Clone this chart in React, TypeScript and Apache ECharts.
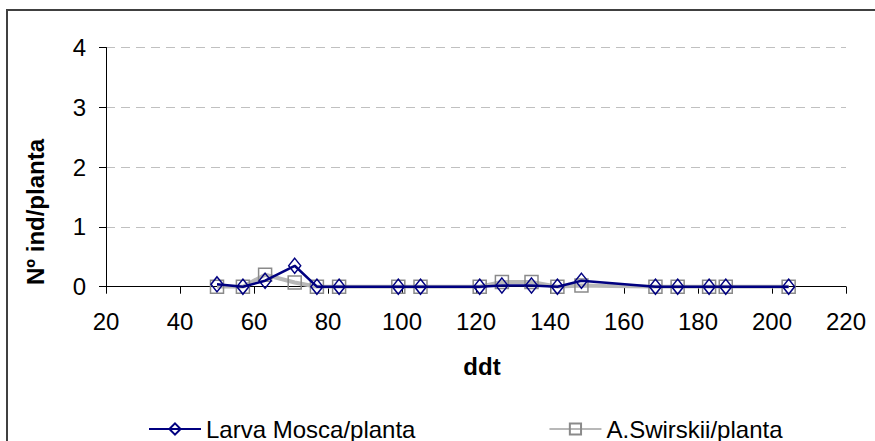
import React, { useEffect, useRef } from "react";
import * as echarts from "echarts";

const ddt = [50, 57, 63, 71, 77, 83, 99, 105, 121, 127, 135, 142, 148.5, 168.5, 174.5, 183, 187.5, 204.5];
const larva = [0.04, 0, 0.1, 0.35, 0, 0, 0, 0, 0, 0.02, 0.02, 0, 0.1, 0, 0, 0, 0, 0];
const swirskii = [0, 0, 0.2, 0.07, 0, 0, 0, 0, 0, 0.08, 0.08, 0, 0.02, 0, 0, 0, 0, 0];
const seriesNames = ["Larva Mosca/planta", "A.Swirskii/planta"];
const xTitle = "ddt";
const yTitle = "Nº ind/planta";

const FONT = "'Liberation Sans', Arial, sans-serif";

export default function App() {
  const ref = useRef<HTMLDivElement>(null);
  useEffect(() => {
    if (!ref.current) return;
    const chart = echarts.init(ref.current, null, { renderer: "svg" });
    const larvaData = ddt.map((x, i) => [x, larva[i]]);
    const swData = ddt.map((x, i) => [x, swirskii[i]]);
    chart.setOption({
      animation: false,
      backgroundColor: "#ffffff",
      textStyle: { fontFamily: FONT },
      grid: { left: 106, top: 47.5, width: 740, height: 239.2, containLabel: false },
      xAxis: {
        type: "value",
        min: 20,
        max: 220,
        interval: 20,
        name: xTitle,
        nameLocation: "middle",
        nameGap: 68,
        nameTextStyle: { fontFamily: FONT, fontSize: 24, fontWeight: "bold", color: "#000", padding: [0, 0, 0, 12] },
        axisLine: { show: true, onZero: false, lineStyle: { color: "#000", width: 1 } },
        axisTick: { show: true, length: 7, lineStyle: { color: "#000" } },
        axisLabel: { fontFamily: FONT, fontSize: 24, color: "#000", margin: 23 },
        splitLine: { show: false },
      },
      yAxis: {
        type: "value",
        min: 0,
        max: 4,
        interval: 1,
        axisLine: { show: true, lineStyle: { color: "#000", width: 1 } },
        axisTick: { show: true, length: 7, lineStyle: { color: "#000" } },
        axisLabel: { fontFamily: FONT, fontSize: 24, color: "#000", margin: 20 },
        splitLine: { show: true, lineStyle: { color: "#c0c0c0", type: [9, 6], width: 1 } },
      },
      legend: {
        left: 143,
        top: 412,
        itemWidth: 52,
        itemHeight: 14,
        itemGap: 133,
        data: [seriesNames[0], seriesNames[1]],
        textStyle: { fontFamily: FONT, fontSize: 24, color: "#000" },
      },
      graphic: [
        {
          type: "rect",
          shape: { x: 7, y: 10, width: 900, height: 500 },
          style: { fill: "none", stroke: "#404040", lineWidth: 2 },
          silent: true,
        },
        {
          type: "text",
          x: 35,
          y: 212,
          rotation: Math.PI / 2,
          style: {
            text: yTitle,
            fontFamily: FONT,
            fontSize: 24,
            fontWeight: "bold",
            fill: "#000",
            align: "center",
            verticalAlign: "middle",
          },
        },
      ],
      series: [
        {
          name: seriesNames[1],
          type: "line",
          data: swData,
          symbol: "rect",
          symbolSize: 13,
          showAllSymbol: true,
          lineStyle: { color: "#b8b8b8", width: 4 },
          itemStyle: { color: "rgba(255,255,255,0)", borderColor: "#8a8a8a", borderWidth: 1.5 },
          z: 2,
        },
        {
          name: seriesNames[0],
          type: "line",
          data: larvaData,
          symbol: "diamond",
          symbolSize: [12, 15],
          showAllSymbol: true,
          lineStyle: { color: "#000080", width: 2.5 },
          itemStyle: { color: "rgba(255,255,255,0)", borderColor: "#000080", borderWidth: 1.5 },
          z: 3,
        },
      ],
    });
    return () => chart.dispose();
  }, []);
  return <div ref={ref} style={{ position: "fixed", left: 0, top: 0, width: 875, height: 441 }} />;
}
